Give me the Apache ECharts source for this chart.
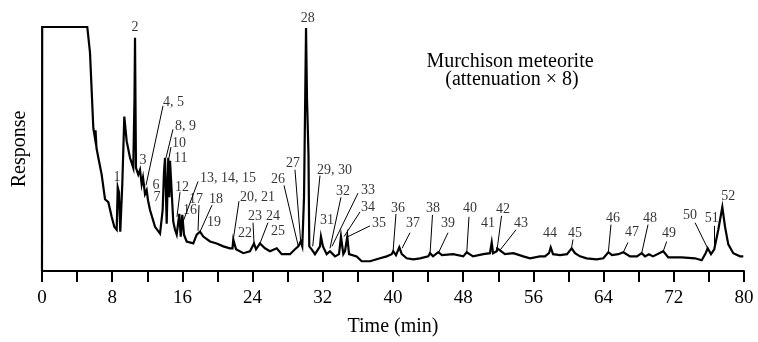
<!DOCTYPE html>
<html>
<head>
<meta charset="utf-8">
<script src="https://cdn.jsdelivr.net/npm/echarts@6/dist/echarts.min.js"></script>
<style>
  html, body { margin: 0; padding: 0; background: #fff; }
  #chart { width: 758px; height: 342px; }
</style>
</head>
<body>
<div id="chart"></div>
<script>
// chromatogram trace (time in min, response 0-100 = full scale)
const times = [
  0, 0.02, 5.16, 5.47, 5.85, 6.04, 6.10, 6.21, 6.42, 6.80, 7.18, 7.56, 7.94, 8.24, 8.51,
  8.63, 8.77, 8.92, 9.15, 9.38, 9.65, 10.03, 10.40, 10.54, 10.60, 10.71, 10.97, 11.17,
  11.36, 11.51, 11.74, 11.93, 12.08, 12.31, 12.88, 13.45, 13.75, 13.90, 14.02, 14.21,
  14.39, 14.51, 14.59, 14.78, 14.96, 15.16, 15.35, 15.65, 15.81, 15.99, 16.18, 16.49,
  17.24, 17.63, 18.01, 18.38, 19.15, 19.91, 20.66, 21.42, 21.71, 21.80, 22.11, 22.94,
  23.70, 24.16, 24.39, 24.84, 25.41, 25.98, 26.75, 27.32, 28.26, 28.83, 29.21, 29.48,
  29.66, 29.86, 30.09, 30.20, 30.37, 30.46, 30.73, 31.11, 31.68, 31.79, 32.02, 32.44,
  32.82, 33.39, 33.85, 34.07, 34.34, 34.53, 34.79, 34.99, 35.86, 36.43, 37.38, 38.52,
  39.28, 39.85, 40.03, 40.34, 40.72, 41.00, 41.56, 42.31, 43.08, 44.02, 44.22, 44.56,
  45.16, 45.58, 46.87, 48.01, 48.40, 49.12, 50.29, 51.05, 51.25, 51.40, 51.82, 51.88,
  52.19, 52.76, 53.71, 54.85, 55.61, 56.75, 57.32, 57.78, 57.97, 58.24, 59.04, 59.83,
  60.36, 60.74, 61.31, 62.07, 63.21, 63.97, 64.54, 64.96, 65.68, 66.25, 67.01, 67.81,
  68.34, 68.72, 69.17, 69.63, 70.80, 71.37, 72.90, 74.42, 75.18, 75.63, 75.86, 76.24,
  76.61, 77.07, 77.53, 77.84, 78.21, 78.78, 79.54, 79.92
];
const signal = [
  0, 100, 100, 89.5, 58.5, 54.4, 57.7, 50.4, 46.4, 39.5, 29.4, 28.2, 22.2, 18.1, 16.9,
  34.3, 32.3, 16.1, 35.5, 63.3, 53.2, 46.4, 42.3, 70.6, 95.6, 42.3, 39.5, 41.5,
  35.5, 38.3, 31.5, 33.1, 29.0, 25.0, 18.1, 15.3, 25.0, 40.3, 46.4, 19.4,
  46.4, 30.2, 45.2, 45.6, 20.2, 16.9, 14.9, 23.4, 14.1, 23.0, 14.9, 12.1,
  11.3, 14.9, 16.1, 14.1, 12.1, 11.3, 10.1, 9.3, 9.3, 12.9, 8.9, 7.3,
  8.1, 11.3, 8.9, 11.3, 9.3, 8.1, 9.3, 6.9, 6.9, 8.9, 10.1, 12.1,
  10.1, 30.2, 99.6, 70.6, 47.6, 10.1, 8.9, 6.9, 10.1, 14.1, 10.1, 6.9,
  8.1, 6.0, 6.9, 14.1, 6.9, 8.1, 14.1, 6.9, 6.0, 4.0, 4.0, 5.2,
  6.0, 6.9, 8.1, 6.5, 9.7, 6.9, 5.2, 4.8, 5.2, 6.0, 7.3, 6.0,
  7.7, 6.5, 6.9, 6.0, 7.7, 6.0, 6.9, 7.3, 11.7, 7.3, 8.1, 9.3,
  8.5, 6.9, 7.3, 6.0, 5.2, 6.0, 6.0, 7.3, 9.7, 6.9, 6.5, 6.9,
  9.3, 7.3, 6.0, 5.2, 4.8, 5.2, 7.7, 6.5, 6.9, 7.7, 6.0, 6.0,
  7.3, 6.0, 6.9, 6.0, 8.1, 5.6, 5.6, 5.2, 4.4, 7.3, 9.3, 6.9,
  8.9, 16.9, 26.2, 18.1, 10.9, 7.3, 6.0, 6.0
];

// peak numbers and where their text sits
const peakNames = ['1', '2', '3', '4, 5', '6', '7', '8, 9', '10', '11', '12', '13, 14, 15',
  '16', '17', '18', '19', '20, 21', '22', '23', '24', '25', '26', '27', '28', '29, 30',
  '31', '32', '33', '34', '35', '36', '37', '38', '39', '40', '41', '42', '43', '44',
  '45', '46', '47', '48', '49', '50', '51', '52'];
const labelTimes = [8.55, 10.60, 11.51, 13.79, 12.99, 13.11, 15.16, 14.81, 15.04, 15.95, 18.01,
  16.87, 17.55, 19.83, 19.60, 22.56, 23.13, 24.27, 26.32, 26.89, 26.89, 28.60, 30.28, 31.34,
  32.48, 34.30, 37.15, 37.15, 38.40, 40.57, 42.28, 44.56, 46.27, 48.77, 50.83, 52.54, 54.59, 57.89,
  60.74, 65.07, 67.24, 69.29, 71.45, 73.85, 76.32, 78.21];
const labelLevels = [38.3, 100, 45.2, 69.0, 35.1, 30.2, 59.3, 52.4, 46.0, 34.3, 37.9,
  25.0, 29.4, 29.4, 19.8, 30.2, 15.3, 22.6, 22.6, 16.1, 37.5, 44.0, 103.6, 41.1,
  20.6, 32.7, 33.1, 26.2, 19.4, 25.8, 19.4, 25.8, 19.4, 25.8, 19.4, 25.4, 19.4, 15.3,
  15.3, 21.4, 15.7, 21.4, 15.3, 23.0, 21.4, 30.6];
const leftAligned = ['4, 5', '8, 9', '10', '11', '13, 14, 15', '20, 21', '29, 30'];

// leader lines: label end -> peak
const leaderTop = [[13.79, 67.7], [14.93, 58.1], [14.70, 50.8], [15.73, 32.3], [17.78, 36.7],
  [17.89, 27.0], [19.37, 27.0], [22.45, 28.6], [24.05, 19.8], [25.75, 19.8], [27.58, 35.1],
  [28.83, 41.5], [31.68, 39.1], [34.07, 30.2], [36.01, 31.9], [36.24, 24.2], [37.38, 18.5],
  [40.34, 23.4], [41.94, 15.7], [44.50, 23.0], [46.27, 15.7], [48.66, 22.2], [52.37, 22.6],
  [54.02, 16.9], [60.51, 12.9], [64.84, 19.0], [66.78, 11.7], [69.06, 19.0], [71.19, 12.1],
  [74.42, 19.8], [76.61, 18.5]];
const leaderFoot = [[11.85, 35.1], [14.13, 46.4], [14.47, 46.4], [15.38, 22.2], [15.95, 19.0],
  [17.78, 16.5], [18.01, 16.1], [21.80, 12.9], [24.16, 11.3], [24.84, 11.3], [29.21, 10.1],
  [29.48, 12.1], [30.85, 10.1], [32.82, 9.3], [33.05, 10.1], [34.42, 14.1], [34.87, 14.1],
  [40.00, 7.7], [41.03, 9.3], [44.22, 6.9], [45.16, 7.3], [48.40, 7.3], [51.88, 9.3],
  [52.19, 8.5], [60.36, 9.7], [64.54, 7.7], [66.25, 7.7], [68.34, 7.3], [70.80, 8.1],
  [75.86, 9.3], [76.61, 8.9]];

const serif = '"Liberation Serif", "DejaVu Serif", serif';

const chart = echarts.init(document.getElementById('chart'));

chart.setOption({
  animation: false,
  backgroundColor: '#fff',
  grid: { left: 42, right: 14, top: 27, bottom: 67 },
  xAxis: {
    type: 'value',
    min: 0,
    max: 80,
    interval: 4,
    name: 'Time (min)',
    nameLocation: 'middle',
    nameGap: 46,
    nameTextStyle: { fontFamily: serif, fontSize: 20, color: '#000' },
    axisLine: { lineStyle: { color: '#000', width: 2 } },
    axisTick: { length: 11, lineStyle: { color: '#000', width: 2 } },
    axisLabel: {
      margin: 18,
      fontFamily: serif,
      fontSize: 19,
      color: '#000',
      formatter: (v) => (v % 8 === 0 ? String(v) : '')
    },
    splitLine: { show: false }
  },
  yAxis: {
    type: 'value',
    min: 0,
    max: 100,
    name: 'Response',
    nameLocation: 'middle',
    nameGap: 12,
    nameRotate: 90,
    nameTextStyle: { fontFamily: serif, fontSize: 20, color: '#000' },
    axisLine: { show: false },
    axisTick: { show: false },
    axisLabel: { show: false },
    splitLine: { show: false }
  },
  graphic: [
    {
      type: 'text',
      x: 510,
      y: 62,
      style: {
        text: 'Murchison meteorite',
        font: '20px ' + serif,
        fill: '#000',
        textAlign: 'center',
        textVerticalAlign: 'middle'
      }
    },
    {
      type: 'text',
      x: 512,
      y: 80,
      style: {
        text: '(attenuation \u00d7 8)',
        font: '20px ' + serif,
        fill: '#000',
        textAlign: 'center',
        textVerticalAlign: 'middle'
      }
    }
  ],
  series: [
    {
      type: 'line',
      data: times.map((t, i) => [t, signal[i]]),
      symbol: 'none',
      clip: false,
      lineStyle: { color: '#000', width: 2.2, join: 'miter' }
    },
    {
      type: 'lines',
      coordinateSystem: 'cartesian2d',
      data: leaderTop.map((p, i) => ({ coords: [p, leaderFoot[i]] })),
      lineStyle: { color: '#000', width: 1, opacity: 1 },
      silent: true
    },
    {
      type: 'scatter',
      symbolSize: 0,
      clip: false,
      silent: true,
      data: peakNames.map((name, i) => ({
        name,
        value: [labelTimes[i], labelLevels[i]],
        label: { align: leftAligned.includes(name) ? 'left' : 'center' }
      })),
      label: {
        show: true,
        position: 'inside',
        formatter: (p) => p.name,
        fontFamily: serif,
        fontSize: 14,
        color: '#000'
      }
    }
  ]
});
</script>
</body>
</html>
